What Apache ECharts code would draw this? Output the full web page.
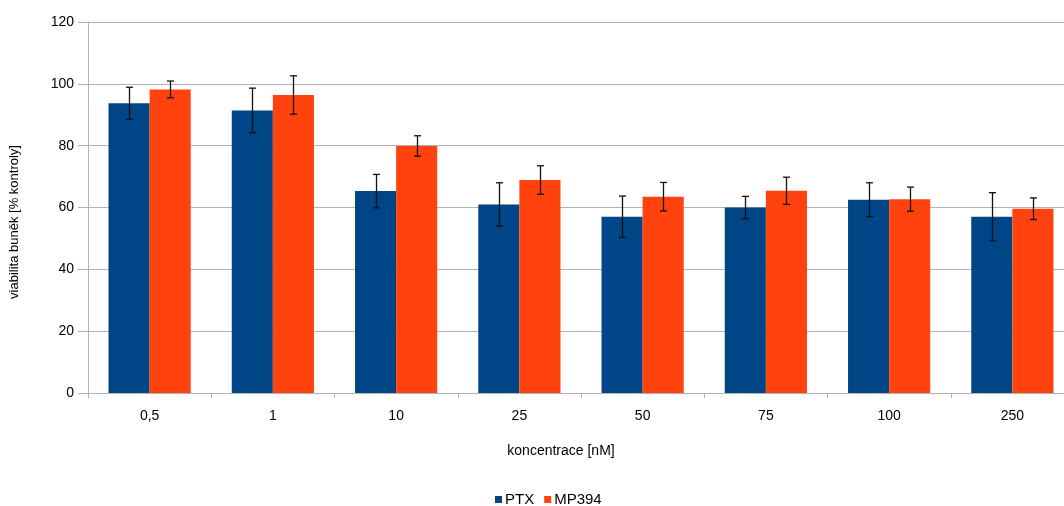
<!DOCTYPE html>
<html>
<head>
<meta charset="utf-8">
<script src="https://cdn.jsdelivr.net/npm/echarts@6/dist/echarts.min.js"></script>
<style>html,body{margin:0;padding:0;background:#fff;overflow:hidden}#c{width:1076px;height:506px}</style>
</head>
<body>
<div id="c"></div>
<script>
const categories = ['0,5', '1', '10', '25', '50', '75', '100', '250'];
const ptx = [93.7, 91.4, 65.3, 61.0, 57.0, 60.0, 62.5, 57.0];
const ptxErr = [5.2, 7.2, 5.4, 7.0, 6.7, 3.6, 5.5, 7.8];
const mp394 = [98.2, 96.4, 79.9, 68.9, 63.5, 65.4, 62.7, 59.6];
const mp394Err = [2.7, 6.2, 3.3, 4.6, 4.6, 4.4, 3.9, 3.5];
const yTicks = { min: 0, max: 120, interval: 20 };

const FONT = '"Liberation Sans", Arial, sans-serif';
const chart = echarts.init(document.getElementById('c'), null, { renderer: 'canvas' });

function errSeries(vals, errs, side, name) {
  return {
    type: 'custom',
    name: name + ' err',
    z: 10,
    silent: true,
    data: vals.map((v, i) => [i, v - errs[i], v + errs[i]]),
    renderItem: function (params, api) {
      const i = api.value(0);
      const lo = api.coord([i, api.value(1)]);
      const hi = api.coord([i, api.value(2)]);
      const cw = api.size([1, 0])[0];
      const x = Math.round(lo[0] + side * cw / 6) + 0.5;
      const cap = 3.5;
      const st = { stroke: '#111', lineWidth: 1.3 };
      return {
        type: 'group',
        children: [
          { type: 'line', shape: { x1: x, y1: lo[1], x2: x, y2: hi[1] }, style: st },
          { type: 'line', shape: { x1: x - cap, y1: lo[1], x2: x + cap, y2: lo[1] }, style: st },
          { type: 'line', shape: { x1: x - cap, y1: hi[1], x2: x + cap, y2: hi[1] }, style: st }
        ]
      };
    }
  };
}

chart.setOption({
  animation: false,
  textStyle: { fontFamily: FONT },
  grid: { left: 88, right: 2, top: 22, bottom: 113, containLabel: false },
  legend: {
    data: ['PTX', 'MP394'],
    top: 487,
    left: 490,
    itemWidth: 7,
    itemHeight: 7,
    itemGap: 10,
    icon: 'rect',
    textStyle: { fontFamily: FONT, fontSize: 15, color: '#000', padding: [0, 0, 0, -2] }
  },
  xAxis: {
    type: 'category',
    data: categories,
    axisLine: { lineStyle: { color: '#b3b3b3' } },
    axisTick: { show: true, length: 5, lineStyle: { color: '#b3b3b3' } },
    axisLabel: { fontFamily: FONT, fontSize: 14, color: '#000', margin: 16 },
    splitLine: { show: false }
  },
  yAxis: {
    type: 'value',
    min: yTicks.min,
    max: yTicks.max,
    interval: yTicks.interval,
    axisLine: { show: true, lineStyle: { color: '#b3b3b3' } },
    axisTick: { show: true, length: 10, lineStyle: { color: '#b3b3b3' } },
    axisLabel: { fontFamily: FONT, fontSize: 14, color: '#000', margin: 14 },
    splitLine: { show: true, lineStyle: { color: '#b3b3b3', width: 1 } }
  },
  graphic: [
    { type: 'text', x: 561, y: 451, style: { text: 'koncentrace [nM]', font: '14px ' + FONT, fill: '#000', align: 'center', verticalAlign: 'middle' } },
    { type: 'text', x: 14, y: 222, rotation: Math.PI / 2, style: { text: 'viabilita buněk [% kontroly]', font: '13px ' + FONT, fill: '#000', align: 'center', verticalAlign: 'middle' } }
  ],
  series: [
    { name: 'PTX', type: 'bar', data: ptx, barGap: '0%', barCategoryGap: '33.3%', itemStyle: { color: '#004586' } },
    { name: 'MP394', type: 'bar', data: mp394, barGap: '0%', barCategoryGap: '33.3%', itemStyle: { color: '#ff420e' } },
    errSeries(ptx, ptxErr, -1, 'PTX'),
    errSeries(mp394, mp394Err, 1, 'MP394')
  ]
});
</script>
</body>
</html>
